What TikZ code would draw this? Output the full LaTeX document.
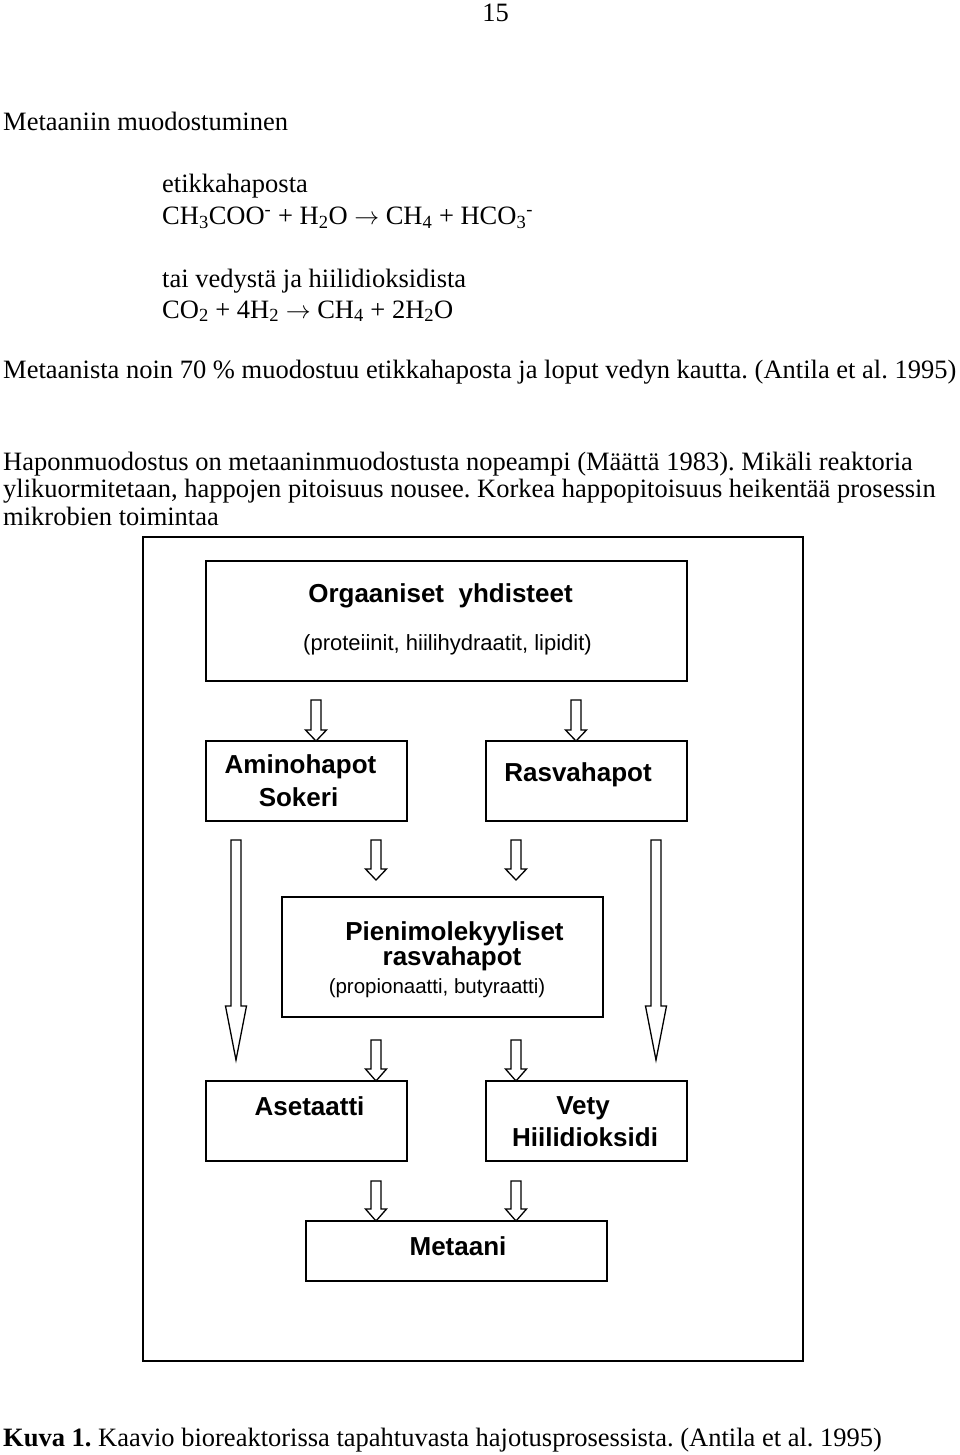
\documentclass[tikz,border=0pt]{standalone}
\usepackage{fontspec}
\setmainfont{Liberation Serif}
\newfontfamily\arialfont{Liberation Sans}
\usetikzlibrary{calc}
\frenchspacing
\tikzset{
  box/.style={draw, line width=1.8pt, inner sep=0pt, outer sep=0pt, anchor=north west},
  arrowline/.style={draw, line width=1.3pt, fill=white, line join=miter},
  lbl/.style={inner sep=0pt, anchor=base, font=\arialfont\bfseries\fontsize{26}{28}\selectfont},
  sublbl/.style={inner sep=0pt, anchor=base, font=\arialfont\fontsize{22}{24}\selectfont},
  body/.style={inner sep=0pt, anchor=base west, font=\fontsize{26.5}{30}\selectfont},
}
\newcommand\blockarrow[3]{%
  \draw[arrowline] let \p1=(#1), \p2=(#2) in
    ({\x1-5pt},\y1) -- ({\x1+5pt},\y1) -- ({\x1+5pt},{\y2+#3pt}) --
    ({\x1+10.5pt},{\y2+#3pt}) -- (\x1,\y2) -- ({\x1-10.5pt},{\y2+#3pt}) --
    ({\x1-5pt},{\y2+#3pt}) -- cycle;}
\begin{document}
\begin{tikzpicture}[x=1pt,y=-1pt]
\useasboundingbox (0,0) rectangle (960,1455);
% page text
\node[body, anchor=base] (pg) at (495.5,22) {15};
\node[body] (title) at (3,131) {Metaaniin muodostuminen};
\node[body] (eq1t) at (162,193) {etikkahaposta};
\node[body] (eq1) at (162,225) {CH\textsubscript{3}COO\textsuperscript{-} + H\textsubscript{2}O $\rightarrow$ CH\textsubscript{4} + HCO\textsubscript{3}\textsuperscript{-}};
\node[body] (eq2t) at (162,287) {tai vedystä ja hiilidioksidista};
\node[body] (eq2) at (162,318) {CO\textsubscript{2} + 4H\textsubscript{2} $\rightarrow$ CH\textsubscript{4} + 2H\textsubscript{2}O};
\node[body] (p1) at (3,378) {Metaanista noin 70 \% muodostuu etikkahaposta ja loput vedyn kautta. (Antila et al. 1995)};
\node[body] (p2a) at (3,470) {Haponmuodostus on metaaninmuodostusta nopeampi (Määttä 1983). Mikäli reaktoria};
\node[body] (p2b) at (3,497) {ylikuormitetaan, happojen pitoisuus nousee. Korkea happopitoisuus heikentää prosessin};
\node[body] (p2c) at (3,525) {mikrobien toimintaa};
\node[body] (cap) at (3,1446) {\textbf{Kuva 1.} Kaavio bioreaktorissa tapahtuvasta hajotusprosessista. (Antila et al. 1995)};
% frame and boxes
\node[box, minimum width=660, minimum height=824] (frame) at (143,537) {};
\node[box, minimum width=481, minimum height=120] (org) at (206,561) {};
\node[box, minimum width=201, minimum height=80] (amino) at (206,741) {};
\node[box, minimum width=201, minimum height=80] (rasva) at (486,741) {};
\node[box, minimum width=321, minimum height=120] (pieni) at (282,897) {};
\node[box, minimum width=201, minimum height=80] (aset) at (206,1081) {};
\node[box, minimum width=201, minimum height=80] (vety) at (486,1081) {};
\node[box, minimum width=301, minimum height=60] (metaani) at (306,1221) {};
% box texts
\node[lbl] (orgt) at (440.5,602.5) {Orgaaniset\ \ yhdisteet};
\node[sublbl] (orgs) at (447.5,650) {(proteiinit, hiilihydraatit, lipidit)};
\node[lbl] (aminot) at (300.5,773) {Aminohapot};
\node[lbl] (sokt) at (298.5,806) {Sokeri};
\node[lbl] (rasvat) at (578,781.5) {Rasvahapot};
\node[lbl] (pienit) at (454.5,940) {Pienimolekyyliset};
\node[lbl] (pienit2) at (452,965) {rasvahapot};
\node[sublbl, font=\arialfont\fontsize{20.5}{22}\selectfont] (pienis) at (437,993) {(propionaatti, butyraatti)};
\node[lbl] (asett) at (309.5,1115) {Asetaatti};
\node[lbl] (vetyt) at (583,1114) {Vety};
\node[lbl] (hiilit) at (585,1146) {Hiilidioksidi};
\node[lbl] (metaanit) at (458,1255) {Metaani};
% arrow coordinates
\coordinate (a1t) at (316,700);
\coordinate (a2t) at (576,700);
\coordinate (a3t) at (376,840);
\coordinate (a3e) at (376,880);
\coordinate (a4t) at (516,840);
\coordinate (a4e) at (516,880);
\coordinate (a5t) at (376,1040);
\coordinate (a6t) at (516,1040);
\coordinate (a7t) at (376,1181);
\coordinate (a8t) at (516,1181);
\coordinate (bLt) at (236,840);
\coordinate (bLe) at (236,1060);
\coordinate (bRt) at (656,840);
\coordinate (bRe) at (656,1060);
% arrows
\blockarrow{a1t}{a1t |- amino.north}{11}
\blockarrow{a2t}{a2t |- rasva.north}{11}
\blockarrow{a3t}{a3e}{11}
\blockarrow{a4t}{a4e}{11}
\blockarrow{a5t}{a5t |- aset.north}{12}
\blockarrow{a6t}{a6t |- vety.north}{12}
\blockarrow{a7t}{a7t |- metaani.north}{12}
\blockarrow{a8t}{a8t |- metaani.north}{12}
\blockarrow{bLt}{bLe}{54}
\blockarrow{bRt}{bRe}{54}
\end{tikzpicture}
\end{document}
